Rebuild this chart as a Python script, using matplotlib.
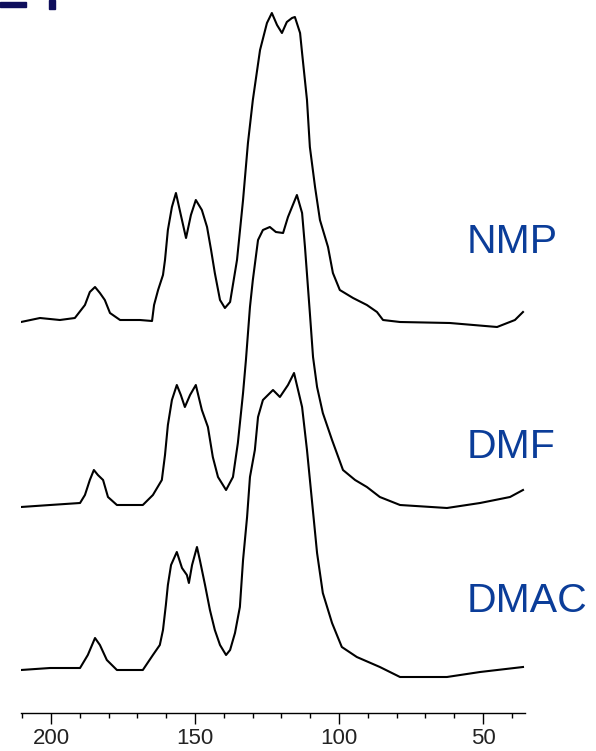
import matplotlib
matplotlib.use("Agg")
import matplotlib.pyplot as plt
from matplotlib.patches import Rectangle
from matplotlib.ticker import MultipleLocator

plt.rcParams["font.family"] = ["Liberation Sans", "DejaVu Sans"]

# chemical shift (ppm) and intensity above each baseline
nmp_ppm = [210.4, 203.8, 196.9, 191.7, 188.2, 186.5, 184.7, 183.0, 181.3, 179.5,
           176.0, 169.1, 164.9, 164.2, 162.8, 161.1, 160.4, 159.4, 158.0, 156.6,
           154.9, 153.1, 151.4, 149.7, 147.6, 145.8, 144.4, 143.1, 141.3, 139.6,
           137.8, 135.4, 133.3, 131.6, 129.9, 127.4, 125.0, 123.3, 121.5, 119.8,
           118.1, 116.3, 115.3, 113.5, 112.8, 111.1, 110.1, 108.3, 106.6, 103.8,
           102.1, 99.7, 95.1, 90.3, 86.8, 84.7, 78.8, 61.5, 45.1, 38.9, 36.1]
nmp_int = [0, 4, 2, 4, 17, 30, 35, 29, 22, 9,
           2, 2, 1, 17, 32, 47, 62, 92, 115, 129,
           107, 84, 107, 122, 112, 95, 72, 49, 22, 14,
           20, 62, 122, 179, 222, 272, 299, 309, 297, 289,
           300, 304, 305, 289, 269, 222, 175, 135, 102, 75,
           49, 32, 24, 17, 10, 2, 0, -1, -5, 2, 10]

dmf_ppm = [210.4, 200.3, 189.9, 188.2, 186.5, 185.1, 183.7, 181.9, 180.2, 177.1,
           168.1, 164.6, 161.5, 160.4, 159.4, 158.0, 156.3, 154.9, 153.5, 151.7,
           149.7, 147.6, 145.5, 143.8, 142.0, 139.2, 136.8, 135.1, 133.3, 132.3,
           130.9, 129.9, 128.1, 126.4, 124.0, 121.9, 119.4, 117.7, 114.6, 112.8,
           111.8, 110.1, 109.0, 107.6, 105.6, 102.4, 98.6, 94.4, 90.3, 85.8,
           78.8, 62.5, 51.0, 40.6, 36.1]
dmf_int = [-2, 0, 2, 10, 25, 35, 30, 25, 8, 0,
           0, 10, 25, 50, 80, 105, 120, 110, 98, 110,
           120, 95, 78, 48, 28, 15, 28, 62, 112, 145,
           198, 225, 265, 275, 278, 273, 272, 288, 310, 292,
           258, 192, 148, 118, 92, 65, 35, 25, 18, 8,
           0, -3, 2, 8, 15]

dmac_ppm = [210.4, 200.3, 189.9, 187.2, 184.7, 183.0, 180.6, 177.1, 168.1, 164.6,
            162.2, 161.1, 160.1, 159.4, 158.3, 156.3, 154.5, 152.8, 152.1, 151.0,
            149.3, 148.3, 146.5, 144.8, 143.1, 141.3, 139.2, 137.8, 136.1, 134.4,
            133.3, 131.9, 130.9, 129.2, 128.1, 126.4, 122.9, 120.5, 117.7, 115.6,
            112.8, 111.1, 109.4, 107.6, 105.6, 102.4, 99.0, 93.8, 85.8, 78.8,
            62.5, 51.0, 36.1]
dmac_int = [0, 2, 2, 15, 32, 25, 10, 0, 0, 15,
            25, 40, 65, 85, 105, 118, 102, 95, 87, 105,
            123, 110, 85, 60, 40, 25, 15, 20, 37, 63,
            110, 153, 193, 220, 253, 270, 280, 273, 285, 297,
            263, 220, 170, 117, 77, 47, 23, 13, 3, -7,
            -7, -2, 3]

offsets = [391, 208, 43]
labels = ["NMP", "DMF", "DMAC"]
label_y = [0.6631, 0.3901, 0.1851]

fig = plt.figure(figsize=(5.96, 7.51), dpi=100)
ax = fig.add_axes([21 / 596, 38 / 751, 504 / 596, 713 / 751])

for ppm, inten, off in zip([nmp_ppm, dmf_ppm, dmac_ppm],
                           [nmp_int, dmf_int, dmac_int], offsets):
    ax.plot(ppm, [v + off for v in inten], color="black", linewidth=1.5)

ax.set_xlim(210.4, 35.4)
ax.set_ylim(0, 713)

for s in ["top", "left", "right"]:
    ax.spines[s].set_visible(False)
ax.spines["bottom"].set_linewidth(1.0)
ax.set_yticks([])
ax.xaxis.set_major_locator(MultipleLocator(50))
ax.xaxis.set_minor_locator(MultipleLocator(10))
ax.tick_params(axis="x", which="major", direction="out", length=8, width=1.0,
               labelsize=16, pad=3, colors="black")
ax.tick_params(axis="x", which="minor", direction="out", length=3.5, width=1.0)
ax.set_xticks([200, 150, 100, 50])
ax.set_xticklabels(["200", "150", "100", "50"], color="#222222")

for lab, ly in zip(labels, label_y):
    fig.text(467 / 596, ly, lab, color="#0b3d99", fontsize=29.5,
             ha="left", va="baseline")

# remnants of a cropped heading at the top-left corner
fig.patches.append(Rectangle((0, 1 - 7 / 751), 26 / 596, 5 / 751,
                             transform=fig.transFigure, color="#0e0e5c"))
fig.patches.append(Rectangle((49 / 596, 1 - 9 / 751), 6 / 596, 9 / 751,
                             transform=fig.transFigure, color="#0e0e5c"))

fig.savefig("out.png", dpi=100)
